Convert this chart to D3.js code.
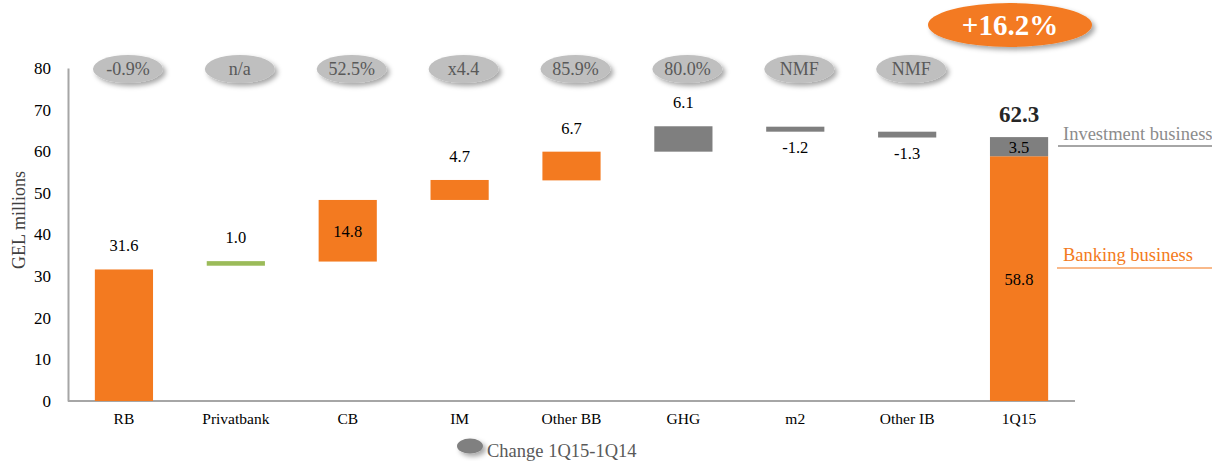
<!DOCTYPE html>
<html><head><meta charset="utf-8">
<script src="https://cdn.jsdelivr.net/npm/d3@7"></script>
<style>body{margin:0;background:#fff}svg{display:block}</style>
</head><body>
<script>
const categories = ["RB","Privatbank","CB","IM","Other BB","GHG","m2","Other IB","1Q15"];
const barStart = [0, 32.5, 33.5, 48.3, 53.0, 59.9, 64.7, 63.3, 0];
const barEnd   = [31.6, 33.6, 48.3, 53.1, 59.9, 66.0, 65.9, 64.7, 58.8];
const barKind  = ["bank","priv","bank","bank","bank","inv","inv","inv","bank"];
const valueLabels = ["31.6","1.0","14.8","4.7","6.7","6.1","-1.2","-1.3","58.8"];
const labelPos = ["above","above","inside","above","above","above","below","below","inside"];
const invStart = 58.8, invEnd = 63.4, invLabel = "3.5", totalLabel = "62.3";
const changeLabels = ["-0.9%","n/a","52.5%","x4.4","85.9%","80.0%","NMF","NMF"];
const totalChange = "+16.2%";
const yTicks = [0,10,20,30,40,50,60,70,80];

const W=1212,H=462;
const svg=d3.select("body").append("svg").attr("width",W).attr("height",H);
const defs=svg.append("defs");
const f=defs.append("filter").attr("id","sh").attr("x","-30%").attr("y","-30%").attr("width","170%").attr("height","180%");
f.append("feDropShadow").attr("dx",3).attr("dy",3).attr("stdDeviation",2.5).attr("flood-color","#000").attr("flood-opacity",0.35);

const colors={bank:"#f37a20",priv:"#9bbb59",inv:"#7f7f7f"};
const x=d3.scaleBand().domain(categories).range([68,1075]).paddingInner(0.48).paddingOuter(0.24);
const y=d3.scaleLinear().domain([0,80]).range([401,68]);
const serif="'Liberation Serif','Times New Roman',serif";

// y axis
const ya=svg.append("g").attr("transform","translate(68,0)").call(d3.axisLeft(y).tickValues(yTicks).tickSize(0).tickPadding(17));
ya.select(".domain").attr("stroke","#a6a6a6").attr("stroke-width",2);
ya.selectAll("text").attr("font-family",serif).attr("font-size",17).attr("fill","#000");
// x axis
const xa=svg.append("g").attr("transform","translate(0,401)").call(d3.axisBottom(x).tickSize(0).tickPadding(12));
xa.select(".domain").attr("stroke","#a6a6a6").attr("stroke-width",2).attr("d","M68,0H1075");
xa.selectAll("text").attr("font-family",serif).attr("font-size",15.5).attr("fill","#000");

svg.append("text").attr("transform","translate(25,220) rotate(-90)").attr("text-anchor","middle")
  .attr("font-family",serif).attr("font-size",18).attr("fill","#404040").text("GEL millions");

// bars
svg.selectAll("rect.bar").data(categories).join("rect").attr("class","bar")
  .attr("x",d=>x(d)).attr("width",x.bandwidth())
  .attr("y",(d,i)=>y(barEnd[i])).attr("height",(d,i)=>y(barStart[i])-y(barEnd[i]))
  .attr("fill",(d,i)=>colors[barKind[i]]);
// investment segment
svg.append("rect").attr("x",x("1Q15")).attr("width",x.bandwidth()).attr("y",y(invEnd)).attr("height",y(invStart)-y(invEnd)).attr("fill",colors.inv);

// value labels
svg.selectAll("text.val").data(categories).join("text").attr("class","val")
  .attr("x",d=>x(d)+x.bandwidth()/2).attr("text-anchor","middle")
  .attr("y",(d,i)=>labelPos[i]==="above"?y(barEnd[i])-18:labelPos[i]==="below"?y(barStart[i])+21:(y(barStart[i])+y(barEnd[i]))/2+(i===8?6:6))
  .attr("font-family",serif).attr("font-size",16.5).attr("fill","#000").text((d,i)=>valueLabels[i]);
svg.append("text").attr("x",x("1Q15")+x.bandwidth()/2).attr("y",(y(invStart)+y(invEnd))/2+6).attr("text-anchor","middle")
  .attr("font-family",serif).attr("font-size",16.5).attr("fill","#000").text(invLabel);
svg.append("text").attr("x",x("1Q15")+x.bandwidth()/2).attr("y",y(invEnd)-15).attr("text-anchor","middle")
  .attr("font-family",serif).attr("font-size",23).attr("font-weight","bold").attr("fill","#262626").text(totalLabel);

// change ellipses
const eg=svg.selectAll("g.ch").data(changeLabels).join("g").attr("class","ch")
  .attr("transform",(d,i)=>`translate(${x(categories[i])+x.bandwidth()/2+4},69)`);
eg.append("ellipse").attr("rx",35).attr("ry",14).attr("fill","#bfbfbf").attr("filter","url(#sh)");
eg.append("text").attr("text-anchor","middle").attr("y",6).attr("font-family",serif).attr("font-size",18).attr("fill","#595959").text(d=>d);

const tg=svg.append("g").attr("transform","translate(1010,25)");
tg.append("ellipse").attr("rx",82).attr("ry",22).attr("fill","#f37a20").attr("filter","url(#sh)");
tg.append("text").attr("text-anchor","middle").attr("y",10).attr("font-family",serif).attr("font-size",29).attr("font-weight","bold").attr("fill","#fff").text(totalChange);

// right side labels
svg.append("text").attr("x",1063).attr("y",140).attr("font-family",serif).attr("font-size",18.5).attr("fill","#8c8c8c").text("Investment business");
svg.append("line").attr("x1",1058).attr("x2",1212).attr("y1",146).attr("y2",146).attr("stroke","#a6a6a6").attr("stroke-width",2);
svg.append("text").attr("x",1063).attr("y",261).attr("font-family",serif).attr("font-size",18.5).attr("fill","#f37a20").text("Banking business");
svg.append("line").attr("x1",1057).attr("x2",1212).attr("y1",268).attr("y2",268).attr("stroke","#f9b98a").attr("stroke-width",2);

// legend
svg.append("ellipse").attr("cx",470).attr("cy",446).attr("rx",13).attr("ry",7.5).attr("fill","#808080").attr("filter","url(#sh)");
svg.append("text").attr("x",487).attr("y",457).attr("font-family",serif).attr("font-size",18.5).attr("fill","#595959").text("Change 1Q15-1Q14");
</script>
</body></html>
